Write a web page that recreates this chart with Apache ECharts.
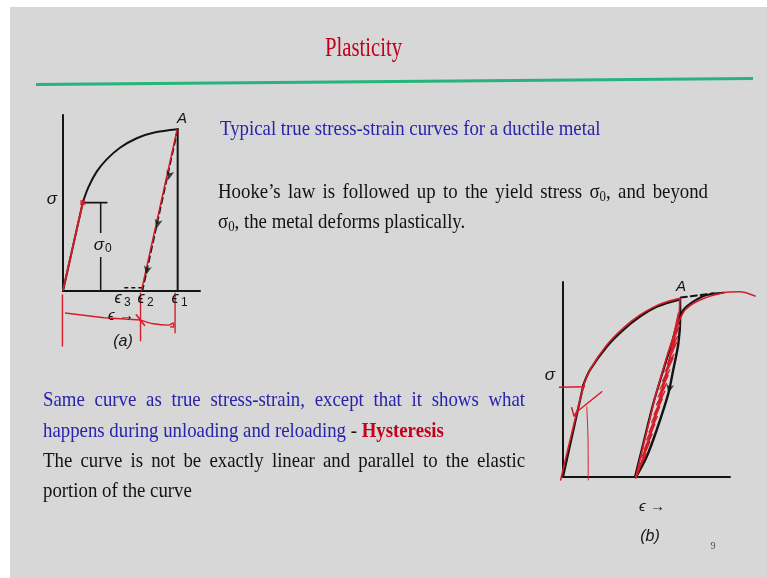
<!DOCTYPE html>
<html><head><meta charset="utf-8">
<script src="https://cdn.jsdelivr.net/npm/echarts@6/dist/echarts.min.js"></script>
<style>html,body{margin:0;padding:0;background:#fff}#c{width:767px;height:578px}</style>
</head><body><div id="c"></div>
<script>
// ---------- figure (a): true stress-strain curve with one unloading path ----------
const axesA        = [[0, 100], [0, 0], [100, 0]];
const elasticA     = [[0, 0], [14.4, 50.2]];
const flowA        = [[14.4, 50.2], [18.5, 58.9], [24.6, 67.8], [31.9, 74.8], [41.6, 81.4], [53.8, 86.8], [65.9, 89.9], [83.7, 91.9]];
const strainLineA  = [[83.7, 0], [83.7, 91.9]];          // vertical at eps1
const yieldTieA    = [[14.4, 50.2], [32, 50.2]];
const unloadA      = [[83.7, 91.9], [57.9, 0]];           // A -> eps2
const recoverA     = [[57.9, 1.8], [44.5, 1.8]];          // eps2 -> eps3
const sigma0Upper  = [[27.5, 33], [27.5, 50.2]];
const sigma0Lower  = [[27.5, 19.5], [27.5, 0]];
const unloadArrowsA = [[76.9, 63.1], [68.4, 35.6], [60.6, 9.1]];
// pen marks
const penElasticA  = [[0, 0.6], [14.6, 50.6]];
const penYieldA    = [[14.4, 50.2]];
const penUnloadA   = [[83.3, 91.7], [57.3, 0.4]];
const penTicksA    = [[[-0.4, -2], [-0.4, -31.6]], [[56.6, -1], [56.6, -28.5]], [[81.8, -1], [81.8, -24]]];
const penSpanLeftA = [[56.6, -16.5], [30, -15.2], [1.5, -12.5]];
const penSpanRightA = [[56.6, -16.5], [66, -18.6], [77, -19.4], [80.5, -18.2], [80.8, -20.5], [78.6, -20.3]];
const penCrossA    = [[53.5, -13.5], [59.5, -19.5]];

// ---------- figure (b): hysteresis loop on unloading and reloading ----------
const axesB        = [[0, 100], [0, 0], [100, 0]];
const elasticB     = [[0, 0], [12.2, 47.2]];
const flowB        = [[12.2, 47.2], [16.2, 54.9], [26.2, 66.8], [36.1, 75.4], [46.1, 82.2], [56.1, 87.3], [70.1, 91.1]];
const unloadB      = [[70.1, 91.1], [70.2, 82.2], [69.1, 68.6], [66, 54.9], [63.1, 42.9], [56.1, 24.1], [50.1, 10.4], [43.7, 0]];
const reloadB      = [[43.1, 0], [48.1, 17.3], [54.1, 37.8], [60.1, 54.9], [65.1, 68.6], [68.5, 78.8], [72, 85.6], [78, 89.9], [86, 93.3], [96, 94.5]];
const extrapB      = [[70.6, 92], [90, 94.2]];
const unloadArrowB = [[63.1, 42.9]];
// pen marks
const penFlowB     = [[-1.4, -1.5], [12.6, 47.6], [16.6, 55.6], [26.2, 67.7], [36.1, 76.4], [46.1, 83.1], [56, 87.9], [62.1, 89.9], [70, 91.6]];
const penLoopB     = [[70, 91.6], [69.5, 84], [67.5, 76], [64.5, 64], [61.5, 52], [58, 40], [54.5, 28], [50.5, 16], [46, 5], [44, 0]];
const penReloadB   = [[43.5, -0.5], [47.5, 14], [51.5, 28], [55.5, 42], [59.5, 54], [63, 64], [66.5, 73], [69.5, 80], [73.5, 86], [82, 90.8], [96, 94.5], [106, 95], [115, 92.8]];
const penHatchB    = [[69, 84], [66, 72], [70, 78], [65, 67], [68.5, 72], [64, 63], [68, 69], [62.5, 58], [66.5, 63],
                      [61, 54], [66, 61], [59.5, 49], [64, 55], [58, 45], [63, 52], [57, 41], [62, 48], [56, 37], [61, 44],
                      [54.5, 32], [59.5, 40], [53, 28], [58, 36], [51.5, 23], [56.5, 31], [50, 19], [55, 27], [48.5, 14],
                      [53.5, 22], [47, 10], [52, 18], [45.5, 5], [50, 12], [45, 3]];
const penYieldB    = [[-2.4, 46], [13.2, 46.3]];
const penStrokeB   = [[5.2, 35.5], [6.6, 31.2], [8, 33.2], [23.2, 43.7]];
const penDropB     = [[14.2, 36], [15, 19], [15.1, -1.5]];

// ---------- slide text ----------
const titleText = 'Plasticity';
const captionLine = 'Typical true stress-strain curves for a ductile metal';
const hookeLines = [
  'Hooke’s law is followed up to the yield stress σ_0, and beyond',
  'σ_0, the metal deforms plastically.'
];
const hysteresisLines = [
  [{ text: 'Same curve as true stress-strain, except that it shows what', kind: 'blue' }],
  [{ text: 'happens during unloading and reloading', kind: 'blue' }, { text: '-', kind: 'black' }, { text: 'Hysteresis', kind: 'red', weight: 'bold' }],
  [{ text: 'The curve is not be exactly linear and parallel to the elastic', kind: 'black' }],
  [{ text: 'portion of the curve', kind: 'black' }]
];
const pageNumber = '9';

const INK = '#141414', PEN = '#d51d2a';
const COLORS = { blue: '#2a22ad', black: '#121212', red: '#c3001c' };
const SERIF = '"Liberation Serif", "Times New Roman", serif';
const BODY_SIZE = 22, BODY_SX = 0.855;

// scale of each sketch: pixel origin and pixels per data unit
const FIG_A = { ox: 63, oy: 291, kx: 1.37, ky: 1.76, xr: [-10, 110], yr: [-40, 110] };
const FIG_B = { ox: 563, oy: 477, kx: 1.67, ky: 1.95, xr: [-10, 120], yr: [-10, 110] };
function gridFor(f) {
  return {
    left: f.ox + f.xr[0] * f.kx, width: (f.xr[1] - f.xr[0]) * f.kx,
    top: f.oy - f.yr[1] * f.ky, height: (f.yr[1] - f.yr[0]) * f.ky
  };
}

const measureCtx = document.createElement('canvas').getContext('2d');
function textWidth(t, size, weight) {
  measureCtx.font = `${weight || 'normal'} ${size}px ${SERIF}`;
  return measureCtx.measureText(t).width;
}

// split runs into words, each word a list of segments (subscripts marked with _d)
function wordsOf(runs) {
  const out = [];
  runs.forEach(r => {
    r.text.split(' ').forEach(w => {
      if (!w) return;
      const segs = [];
      w.split(/(_\d)/).forEach(p => {
        if (!p) return;
        if (/^_\d$/.test(p)) segs.push({ t: p[1], sub: true, color: COLORS[r.kind], weight: r.weight });
        else segs.push({ t: p, color: COLORS[r.kind], weight: r.weight });
      });
      out.push(segs);
    });
  });
  return out;
}

const textEls = [];
function bodyLine(runs, x0, y, justifyTo) {
  const words = wordsOf(runs);
  const widths = words.map(segs => segs.reduce((s, g) => s + textWidth(g.t, g.sub ? 15 : BODY_SIZE, g.weight) * BODY_SX, 0));
  const total = widths.reduce((a, b) => a + b, 0);
  const gap = justifyTo ? (justifyTo - x0 - total) / (words.length - 1) : textWidth(' ', BODY_SIZE) * BODY_SX;
  let x = x0;
  words.forEach((segs, i) => {
    let sx = x;
    segs.forEach(g => {
      const size = g.sub ? 15 : BODY_SIZE;
      textEls.push({
        type: 'text', x: sx, y: y + (g.sub ? 5 : 0), scaleX: BODY_SX, z: 20,
        style: { text: g.t, fill: g.color, fontSize: size, fontFamily: SERIF, fontWeight: g.weight || 'normal', align: 'left', verticalAlign: 'middle' }
      });
      sx += textWidth(g.t, size, g.weight) * BODY_SX;
    });
    x += widths[i] + gap;
  });
}

bodyLine([{ text: captionLine, kind: 'blue' }], 220, 129);
bodyLine([{ text: hookeLines[0], kind: 'black' }], 218, 192, 708);
bodyLine([{ text: hookeLines[1], kind: 'black' }], 218, 222);
bodyLine(hysteresisLines[0], 43, 400, 525);
bodyLine(hysteresisLines[1], 43, 431);
bodyLine(hysteresisLines[2], 43, 461, 525);
bodyLine(hysteresisLines[3], 43, 491);

// sketch lettering
const LABEL_FONT = '"Liberation Sans", "DejaVu Sans", sans-serif';
function label(t, x, y, size, subT) {
  textEls.push({ type: 'text', x, y, z: 20, style: { text: t, fill: INK, fontSize: size || 15, fontStyle: 'italic', fontFamily: LABEL_FONT, align: 'center', verticalAlign: 'middle' } });
  if (subT) textEls.push({ type: 'text', x: x + 6, y: y + 4, z: 20, style: { text: subT, fill: INK, fontSize: 12, fontFamily: LABEL_FONT, align: 'left', verticalAlign: 'middle' } });
}
label('A', 182, 119, 15);
label('σ', 52, 199, 17);
textEls.push({ type: 'rect', x: 92, y: 235, shape: { width: 22, height: 22 }, z: 15, style: { fill: '#d7d7d7' } });
label('σ', 99, 245, 17, '0');
label('ϵ', 118, 299, 16, '3');
label('ϵ', 141, 299, 16, '2');
label('ϵ', 175, 299, 16, '1');
label('ϵ →', 121, 316, 15);
label('(a)', 123, 342, 16);
label('A', 681, 287, 15);
label('σ', 550, 375, 17);
label('ϵ →', 652, 507, 15);
label('(b)', 650, 537, 16);

const chart = echarts.init(document.getElementById('c'), null, { renderer: 'canvas' });

function line(data, ax, opts) {
  opts = opts || {};
  return {
    type: 'line', xAxisIndex: ax, yAxisIndex: ax, data, symbol: 'none', silent: true,
    smooth: opts.smooth || false, clip: false, z: opts.z || 3,
    lineStyle: { color: opts.color || INK, width: opts.width || 2, type: opts.type || 'solid', cap: 'round', join: 'round' }
  };
}
function arrows(paths, ax, opts) {
  opts = opts || {};
  return {
    type: 'lines', coordinateSystem: 'cartesian2d', xAxisIndex: ax, yAxisIndex: ax, polyline: true, silent: true,
    symbol: opts.symbol || ['none', 'arrow'], symbolSize: opts.size || 7, z: opts.z || 4,
    lineStyle: { color: opts.color || INK, width: opts.width || 1.5, type: opts.type || 'solid', opacity: 1 },
    data: paths.map(p => ({ coords: p }))
  };
}
function heads(points, ax, rot, color, size, symbol) {
  return {
    type: 'scatter', xAxisIndex: ax, yAxisIndex: ax, data: points, symbol: symbol || 'arrow', symbolSize: size || [6, 9],
    symbolRotate: rot, silent: true, z: 7, itemStyle: { color: color || INK }
  };
}

const axisOff = r => ({ type: 'value', show: false, min: r[0], max: r[1] });

chart.setOption({
  backgroundColor: '#ffffff',
  animation: false,
  grid: [gridFor(FIG_A), gridFor(FIG_B)],
  xAxis: [Object.assign(axisOff(FIG_A.xr), { gridIndex: 0 }), Object.assign(axisOff(FIG_B.xr), { gridIndex: 1 })],
  yAxis: [Object.assign(axisOff(FIG_A.yr), { gridIndex: 0 }), Object.assign(axisOff(FIG_B.yr), { gridIndex: 1 })],
  graphic: {
    elements: [
      { type: 'rect', x: 10, y: 7, shape: { width: 757, height: 571 }, z: -10, style: { fill: '#d7d7d7' } },
      { type: 'text', x: 325, y: 48.5, scaleX: 0.74, z: 20, style: { text: titleText, fill: '#c2001c', fontSize: 28, fontFamily: SERIF, align: 'left', verticalAlign: 'middle' } },
      { type: 'line', z: 20, shape: { x1: 36, y1: 84.5, x2: 753, y2: 78.5 }, style: { stroke: '#25b47c', lineWidth: 3 } },
      { type: 'text', x: 713, y: 546, z: 20, style: { text: pageNumber, fill: '#505050', fontSize: 10, fontFamily: SERIF, align: 'center', verticalAlign: 'middle' } }
    ].concat(textEls)
  },
  series: [
    // (a)
    line(axesA, 0, { width: 2 }),
    line(elasticA, 0),
    line(flowA, 0, { smooth: 0.35 }),
    line(strainLineA, 0),
    line(yieldTieA, 0, { width: 1.6 }),
    line(unloadA, 0, { type: [6, 4], width: 1.8 }),
    arrows([recoverA], 0, { type: [4, 3], size: 6 }),
    arrows([sigma0Upper, sigma0Lower], 0, { size: 7 }),
    heads(unloadArrowsA, 0, 167.7),
    line(penElasticA, 0, { color: PEN, width: 1.8, z: 6 }),
    heads(penYieldA, 0, 0, PEN, 5, 'rect'),
    line(penUnloadA, 0, { color: PEN, width: 1.5, z: 6 }),
    arrows(penTicksA, 0, { color: PEN, symbol: ['none', 'none'], width: 1.4, z: 6 }),
    arrows([penSpanLeftA], 0, { color: PEN, width: 1.4, size: 8, z: 6 }),
    line(penSpanRightA, 0, { color: PEN, width: 1.4, smooth: 0.3, z: 6 }),
    line(penCrossA, 0, { color: PEN, width: 1.6, z: 6 }),
    // (b)
    line(axesB, 1, { width: 2 }),
    line(elasticB, 1, { width: 2.2 }),
    line(flowB, 1, { smooth: 0.35, width: 2.2 }),
    line(unloadB, 1, { smooth: 0.3, width: 2.4 }),
    line(reloadB, 1, { smooth: 0.3, width: 2.2 }),
    line(extrapB, 1, { type: [6, 4], width: 2 }),
    heads(unloadArrowB, 1, 168),
    line(penFlowB, 1, { color: PEN, width: 1.6, smooth: 0.3, z: 6 }),
    line(penLoopB, 1, { color: PEN, width: 1.5, smooth: 0.3, z: 6 }),
    line(penReloadB, 1, { color: PEN, width: 1.6, smooth: 0.3, z: 6 }),
    line(penHatchB, 1, { color: PEN, width: 1.2, z: 6 }),
    arrows([penYieldB], 1, { color: PEN, width: 1.5, size: 7, z: 6 }),
    line(penStrokeB, 1, { color: PEN, width: 1.5, z: 6 }),
    line(penDropB, 1, { color: PEN, width: 1, smooth: 0.3, z: 6 })
  ]
});
</script></body></html>
